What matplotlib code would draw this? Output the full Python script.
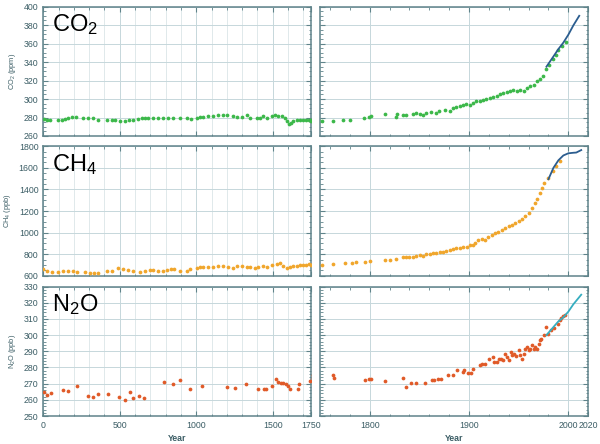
import matplotlib
matplotlib.use('Agg')
import matplotlib.pyplot as plt
from matplotlib.ticker import MultipleLocator, FixedLocator

plt.rcParams['font.family'] = ['Liberation Sans', 'DejaVu Sans']
plt.rcParams['mathtext.fontset'] = 'custom'
plt.rcParams['mathtext.rm'] = 'Liberation Sans'
plt.rcParams['mathtext.it'] = 'Liberation Sans'
plt.rcParams['mathtext.default'] = 'regular'

# Ice core / firn samples and atmospheric records
co2_year = [7, 22, 44, 98, 120, 142, 164, 185, 214, 262, 294, 327, 360, 414,
            447, 469, 501, 534, 560, 589, 621, 643, 665, 687, 719, 752, 785,
            818, 850, 894, 937, 966, 1003, 1025, 1046, 1079, 1112, 1145, 1177,
            1199, 1243, 1264, 1297, 1330, 1352, 1395, 1417, 1439, 1461, 1493,
            1515, 1537, 1559, 1580, 1596, 1604, 1618, 1635, 1657, 1679, 1700,
            1718, 1735, 1748,
            1752, 1763, 1773, 1780, 1794, 1799, 1801, 1815, 1827, 1828, 1834,
            1837, 1844, 1847, 1851, 1854, 1857, 1862, 1867, 1870, 1876, 1881,
            1884, 1887, 1891, 1894, 1897, 1901, 1904, 1907, 1911, 1914, 1917,
            1921, 1924, 1928, 1931, 1934, 1938, 1941, 1944, 1948, 1951, 1955,
            1958, 1961, 1965, 1968, 1971, 1975, 1978, 1981, 1985, 1988, 1990,
            1994, 1998]
co2_ppm = [278, 277, 277, 277, 277, 278, 280, 281, 281, 280, 279, 279, 277,
           277, 277, 277, 276, 276, 277, 277, 278, 279, 279, 280, 279, 279,
           279, 279, 279, 279, 279, 278, 280, 281, 281, 282, 282, 283, 283,
           283, 282, 281, 281, 283, 280, 279, 280, 282, 280, 282, 283, 282,
           282, 280, 276, 273, 274, 276, 277, 277, 277, 277.5, 277, 277.5,
           276, 276, 277, 277.5, 280, 281, 281.5, 283.5, 281, 283.5, 283,
           282.5, 284, 284.5, 284, 283, 285, 285.5, 285, 286.5, 288, 287,
           290, 291, 292.5, 293, 295, 294, 295.5, 297.5, 297.5, 299, 300,
           301, 302.5, 303, 305, 306, 307.5, 309, 310, 309, 310, 309, 311.5,
           314, 315, 319, 321.5, 324.5, 332, 337, 343, 348, 353, 357, 362]
co2_atm_year = [1978, 1985, 1990, 1995, 2000, 2005, 2011]
co2_atm_ppm = [335, 346, 354, 361, 369.5, 379.5, 390]

ch4_year = [0, 22, 55, 98, 131, 164, 192, 222, 273, 305, 334, 360, 414, 447,
            491, 523, 556, 589, 632, 665, 698, 719, 752, 785, 807, 833, 855,
            894, 937, 959, 1003, 1025, 1046, 1079, 1112, 1145, 1177, 1210,
            1243, 1269, 1297, 1330, 1352, 1384, 1406, 1439, 1461, 1493, 1526,
            1548, 1570, 1591, 1613, 1635, 1657, 1679, 1700, 1720, 1740,
            1752, 1763, 1775, 1782, 1786, 1795, 1800, 1815, 1820, 1827, 1834,
            1837, 1840, 1844, 1847, 1851, 1854, 1857, 1861, 1864, 1867, 1871,
            1874, 1877, 1881, 1884, 1887, 1891, 1894, 1898, 1901, 1904, 1906,
            1909, 1913, 1916, 1919, 1923, 1926, 1929, 1933, 1936, 1940, 1943,
            1946, 1950, 1953, 1956, 1960, 1963, 1966, 1968, 1971, 1974, 1976,
            1980, 1985, 1988, 1992]
ch4_ppb = [659, 644, 634, 634, 644, 644, 644, 634, 631, 628, 622, 622, 644,
           644, 668, 662, 653, 647, 637, 647, 653, 653, 647, 647, 653, 662,
           662, 647, 647, 659, 668, 678, 684, 678, 684, 690, 693, 684, 668,
           690, 690, 678, 678, 675, 684, 690, 684, 700, 706, 715, 690, 675,
           684, 690, 690, 700, 695, 700, 705,
           700, 706, 721, 721, 727, 727, 737, 746, 746, 758, 771, 771, 777,
           777, 783, 792, 783, 802, 802, 814, 814, 824, 824, 830, 839, 845,
           855, 855, 864, 870, 886, 886, 902, 932, 938, 932, 957, 978, 994,
           1010, 1025, 1041, 1057, 1072, 1088, 1103, 1124, 1155, 1186, 1226,
           1273, 1310, 1366, 1412, 1459, 1506, 1568, 1614, 1660]
ch4_atm_year = [1980, 1985, 1990, 1995, 2000, 2005, 2008, 2013]
ch4_atm_ppb = [1495, 1600, 1670, 1715, 1735, 1740, 1742, 1765]

n2o_year = [7, 22, 48, 131, 164, 222, 294, 323, 360, 425, 495, 534, 567, 589,
            628, 660, 791, 850, 894, 959, 1040, 1199, 1254, 1325, 1406, 1445,
            1454, 1498, 1522, 1537, 1552, 1570, 1587, 1602, 1613, 1663, 1674,
            1745,
            1763, 1764, 1795, 1799, 1801, 1815, 1834, 1837, 1842, 1847, 1856,
            1863, 1865, 1869, 1872, 1879, 1884, 1888, 1894, 1895, 1899, 1902,
            1904, 1911, 1913, 1916, 1920, 1924, 1925, 1928, 1930, 1932, 1934,
            1936, 1938, 1940, 1942, 1943, 1945, 1947, 1950, 1951, 1953, 1955,
            1956, 1958, 1960, 1961, 1963, 1965, 1966, 1968, 1970, 1971, 1973,
            1976, 1978, 1980, 1983, 1986, 1990, 1992, 1993, 1995, 1997]
n2o_ppb = [264.8, 263.3, 264.4, 266, 265.2, 268.3, 262.3, 261.5, 263.7,
           263.5, 261.9, 260.2, 264.6, 261.3, 262.3, 261.3, 270.9, 269.5,
           272.2, 266.8, 268.5, 267.8, 267.6, 269.7, 266.4, 267, 266.6,
           268.7, 272.6, 271.1, 270.7, 270.3, 269.5, 268.7, 266.6, 267,
           269.7, 271.5,
           275.2, 273.8, 272.2, 272.8, 272.8, 271.5, 273.2, 268, 270.5, 270.5,
           270.5, 272.2, 272.2, 272.6, 272.6, 275.6, 275.6, 278.3, 277.3,
           278.7, 276.7, 276.3, 279.3, 281.4, 282.4, 282, 285.5, 286.5, 283.4,
           283.4, 285.5, 285.5, 284.9, 288.6, 286.5, 284.5, 289.6, 287.6,
           288.6, 286.9, 290.6, 287.6, 285.5, 288.6, 291.7, 292.7, 290.6,
           291.7, 293.7, 291.7, 292.7, 291.7, 294.7, 296.8, 297.8, 299.9, 305,
           300.9, 303, 304.6, 307, 309.1, 310.8, 311.6, 312.2]
n2o_atm_year = [1978, 1985, 1990, 1995, 2000, 2005, 2013]
n2o_atm_ppb = [300, 305, 308.5, 311, 314.5, 319, 325]

gases = [
    ('CO$_2$', 'CO$_2$ (ppm)', co2_year, co2_ppm, co2_atm_year, co2_atm_ppm,
     '#3cb84a', '#2b5d8f', (260, 400), 20, 5),
    ('CH$_4$', 'CH$_4$ (ppb)', ch4_year, ch4_ppb, ch4_atm_year, ch4_atm_ppb,
     '#f0a62c', '#2b5d8f', (600, 1800), 200, 50),
    ('N$_2$O', 'N$_2$O (ppb)', n2o_year, n2o_ppb, n2o_atm_year, n2o_atm_ppb,
     '#e05a28', '#36aec0', (250, 330), 10, 2),
]

frame_col = '#5f838a'
text_col = '#3b5d65'
grid_major = '#c6d7db'
grid_minor = '#dae5e8'

fig = plt.figure(figsize=(6, 4.44), dpi=100)
row_bottoms = [0.6937, 0.379, 0.063]
row_h = 0.2915

for r, (name, ylab, yr, val, ayr, aval, col, lcol, ylim, ymaj, ymin) \
        in enumerate(gases):
    ax_l = fig.add_axes([0.0722, row_bottoms[r], 0.446, row_h])
    ax_r = fig.add_axes([0.5333, row_bottoms[r], 0.447, row_h])
    for ax in (ax_l, ax_r):
        ax.plot(yr, val, linestyle='none', marker='o', markersize=2.7,
                color=col, markeredgewidth=0, zorder=3)
        ax.plot(ayr, aval, color=lcol, linewidth=1.3, zorder=4)
        ax.set_ylim(*ylim)
        ax.yaxis.set_major_locator(MultipleLocator(ymaj))
        ax.yaxis.set_minor_locator(MultipleLocator(ymin))
        for s in ax.spines.values():
            s.set_color(frame_col)
            s.set_linewidth(1.1)
        ax.tick_params(which='both', direction='in', top=True, right=True,
                       colors=frame_col, labelcolor=text_col, labelsize=6.3)
        ax.tick_params(which='major', length=3.5, width=0.8)
        ax.tick_params(which='minor', length=1.8, width=0.6)
        ax.grid(True, which='major', color=grid_major, linewidth=0.7,
                zorder=0)
        ax.set_axisbelow(True)

    ax_l.set_xlim(0, 1750)
    ax_l.xaxis.set_major_locator(FixedLocator([0, 500, 1000, 1500, 1750]))
    ax_l.xaxis.set_minor_locator(MultipleLocator(100))
    ax_l.grid(True, which='minor', axis='x', color=grid_minor,
              linewidth=0.6, zorder=0)
    ax_r.set_xlim(1750, 2020)
    ax_r.xaxis.set_major_locator(FixedLocator([1800, 1900, 2000, 2020]))
    ax_r.xaxis.set_minor_locator(MultipleLocator(20))
    ax_r.tick_params(axis='y', labelleft=False)

    ax_l.set_ylabel(ylab, fontsize=5.3, color=text_col, labelpad=4)
    ax_l.text(0.032, 0.81, name, transform=ax_l.transAxes, fontsize=17,
              color='black', va='baseline', ha='left')

    if r < 2:
        ax_l.tick_params(axis='x', labelbottom=False)
        ax_r.tick_params(axis='x', labelbottom=False)
    else:
        for ax in (ax_l, ax_r):
            ax.set_xlabel('Year', fontsize=6.3, color=text_col,
                          fontweight='bold', labelpad=3)

fig.savefig('out.png', dpi=100)
